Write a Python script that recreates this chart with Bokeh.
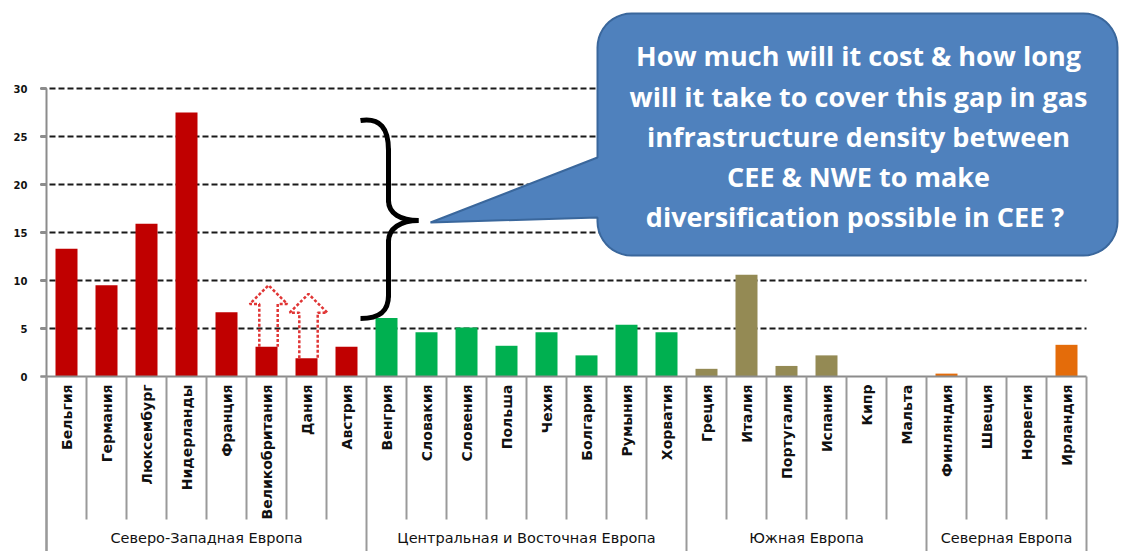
import numpy as np
from bokeh.plotting import figure
from bokeh.models import Range1d
from bokeh.core.properties import value
from bokeh.embed import file_html
from bokeh.resources import INLINE

# ---------------- data ----------------
groups = ["Северо-Западная Европа", "Центральная и Восточная Европа", "Южная Европа", "Северная Европа"]
group_colors = ["#C00000", "#00B050", "#948A54", "#E46C0A"]
nwe_countries = ["Бельгия", "Германия", "Люксембург", "Нидерланды", "Франция", "Великобритания", "Дания", "Австрия"]
nwe_values = [13.3, 9.5, 15.9, 27.5, 6.7, 3.1, 1.9, 3.1]
cee_countries = ["Венгрия", "Словакия", "Словения", "Польша", "Чехия", "Болгария", "Румыния", "Хорватия"]
cee_values = [6.1, 4.6, 5.1, 3.2, 4.6, 2.2, 5.4, 4.6]
se_countries = ["Греция", "Италия", "Португалия", "Испания", "Кипр", "Мальта"]
se_values = [0.8, 10.6, 1.1, 2.2, 0.0, 0.0]
ne_countries = ["Финляндия", "Швеция", "Норвегия", "Ирландия"]
ne_values = [0.3, 0.0, 0.0, 3.3]
y_ticks = [0, 5, 10, 15, 20, 25, 30]
arrow_countries = ["Великобритания", "Дания"]
arrow_tips = [9.5, 8.6]
callout_lines = [
    "How much will it cost & how long",
    "will it take to cover this gap in gas",
    "infrastructure density between",
    "CEE & NWE to make",
    "diversification possible  in CEE ?",
]

group_countries = [nwe_countries, cee_countries, se_countries, ne_countries]
group_values = [nwe_values, cee_values, se_values, ne_values]

categories, values, colors = [], [], []
for g, (cs, vs) in enumerate(zip(group_countries, group_values)):
    categories += cs
    values += vs
    colors += [group_colors[g]] * len(cs)
n = len(categories)
centers = [i + 0.5 for i in range(n)]

# ---------------- layout helpers (pixel -> data) ----------------
W, H = 1121, 551
X0, DX = 46.0, 40.0
Y0, DY = 376.0, 9.6
def dx(px): return (np.asarray(px, dtype=float) - X0) / DX
def dy(py): return (Y0 - np.asarray(py, dtype=float)) / DY

p = figure(width=W, height=H, output_backend="svg", toolbar_location=None,
           x_range=Range1d(float(dx(0)), float(dx(W))),
           y_range=Range1d(float(dy(H)), float(dy(0))),
           min_border=0, min_border_left=0, min_border_right=0,
           min_border_top=0, min_border_bottom=0)
p.xaxis.visible = False
p.yaxis.visible = False
p.grid.visible = False
p.outline_line_color = None
p.background_fill_color = "white"

ymin = float(dy(H))
xl = float(dx(40))

# gridlines
for t in y_ticks[1:]:
    p.line([xl, n], [t, t], line_color="#1a1a1a", line_width=2, line_dash="6 3")

# bars
p.vbar(x=centers, top=values, width=0.55, bottom=0, fill_color=colors, line_color=None)

# axes lines
p.line([xl, n], [0, 0], line_color="#8c8c8c", line_width=2)
p.line([0, 0], [ymin, max(y_ticks)], line_color="#8c8c8c", line_width=2)
for t in y_ticks:
    p.line([xl, 0], [t, t], line_color="#8c8c8c", line_width=2)

# y tick labels
p.text(x=[float(dx(27))] * len(y_ticks), y=y_ticks, text=[str(t) for t in y_ticks],
       text_align="right", text_baseline="middle", text_font=value("DejaVu Sans"),
       text_font_size="10px", text_font_style="bold", text_color="#111111")

# category separators
bounds = [0]
for cs in group_countries:
    bounds.append(bounds[-1] + len(cs))
short_bottom = float(dy(519))
for i in range(1, n):
    if i in bounds:
        continue
    p.line([i, i], [0, short_bottom], line_color="#9a9a9a", line_width=2)
for b in bounds:
    p.line([b, b], [0, ymin], line_color="#9a9a9a", line_width=2)

# category labels
p.text(x=centers, y=[float(dy(384))] * n, text=categories, angle=np.pi / 2,
       text_align="right", text_baseline="middle", text_font=value("DejaVu Sans"),
       text_font_size="14px", text_font_style="bold", text_color="#111111")

# group labels
gmid = [(bounds[k] + bounds[k + 1]) / 2 for k in range(len(groups))]
p.text(x=gmid, y=[float(dy(537))] * len(groups), text=groups,
       text_align="center", text_baseline="middle", text_font=value("DejaVu Sans"),
       text_font_size="14.5px", text_color="#111111")

# dashed up arrows
for name, tip in zip(arrow_countries, arrow_tips):
    i = categories.index(name)
    cx = centers[i] + 0.05
    base = values[i]
    head = tip - 1.95
    sw, hw = 0.23, 0.47
    xs = [cx - sw, cx - sw, cx - hw, cx, cx + hw, cx + sw, cx + sw]
    ys = [base, head, head, tip, head, head, base]
    p.line(xs, ys, line_color="#E03535", line_width=2.5, line_dash="3 2")

# curly brace
bz = [
    ((360, 120), (380, 117), (388, 128), (388, 150)),
    ((388, 200), (388, 213), (400, 220), (418, 220)),
    ((418, 220), (400, 220), (388, 228), (388, 241)),
    ((388, 295), (388, 310), (380, 318), (360, 318)),
]
p.bezier(x0=[float(dx(b[0][0])) for b in bz], y0=[float(dy(b[0][1])) for b in bz],
         cx0=[float(dx(b[1][0])) for b in bz], cy0=[float(dy(b[1][1])) for b in bz],
         cx1=[float(dx(b[2][0])) for b in bz], cy1=[float(dy(b[2][1])) for b in bz],
         x1=[float(dx(b[3][0])) for b in bz], y1=[float(dy(b[3][1])) for b in bz],
         line_color="black", line_width=5)
p.line([float(dx(388))] * 2, [float(dy(148)), float(dy(202))], line_color="black", line_width=5)
p.line([float(dx(388))] * 2, [float(dy(239)), float(dy(297))], line_color="black", line_width=5)

# callout bubble
L, R, T, B, r = 597, 1117, 13, 255, 34
def arc(cx, cy, a0, a1, k=12):
    a = np.linspace(a0, a1, k)
    return list(cx + r * np.cos(a)), list(cy + r * np.sin(a))
pxs, pys = [430, L], [222, 217]
for (cx, cy, a0, a1) in [(L + r, B - r, np.pi, np.pi / 2), (R - r, B - r, np.pi / 2, 0),
                         (R - r, T + r, 0, -np.pi / 2), (L + r, T + r, -np.pi / 2, -np.pi)]:
    ax, ay = arc(cx, cy, a0, a1)
    pxs += ax
    pys += ay
pxs += [L, 430]
pys += [157, 222]
p.patch(x=list(dx(pxs)), y=list(dy(pys)), fill_color="#4F81BD", line_color="#3A679C", line_width=2)

ly = [55, 96, 136, 176, 216]
p.text(x=[float(dx(858))] * len(callout_lines), y=list(dy(ly)), text=callout_lines,
       text_align="center", text_baseline="middle", text_font=value("Open Sans"),
       text_font_size="27px", text_font_style="bold", text_color="white")

open("out.html", "w").write(file_html(p, INLINE))
